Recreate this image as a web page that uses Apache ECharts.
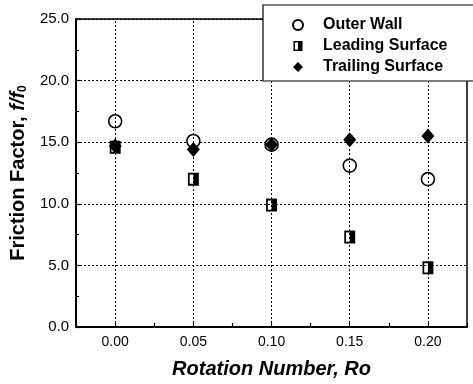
<!DOCTYPE html>
<html><head><meta charset="utf-8">
<script src="https://cdn.jsdelivr.net/npm/echarts@6/dist/echarts.min.js"></script>
<style>html,body{margin:0;padding:0;background:#fff}#c{width:473px;height:384px}</style>
</head><body><div id="c"></div>
<script>
const rotation = [0.00, 0.05, 0.10, 0.15, 0.20];
const outerWall = [16.7, 15.1, 14.8, 13.1, 12.0];
const leadingSurface = [14.6, 12.0, 9.9, 7.3, 4.8];
const trailingSurface = [14.7, 14.4, 14.8, 15.2, 15.5];
const xTicks = [0.00, 0.05, 0.10, 0.15, 0.20];
const yTicks = [0, 5, 10, 15, 20, 25];

const pairs = a => rotation.map((x, i) => [x, a[i]]);
const halfSquare = 'path://M0 0H10V11H0Z M1.6 1.6V9.4H5V1.6Z';
const FONT = 'Liberation Sans, Arial, sans-serif';

const chart = echarts.init(document.getElementById('c'), null, {renderer: 'canvas'});
chart.setOption({
  animation: false,
  backgroundColor: '#fff',
  grid: {left: 74, top: 19, right: 6, bottom: 56, show: true, borderColor: '#000', borderWidth: 1.5, backgroundColor: 'transparent'},
  legend: {
    left: 263, top: 5, orient: 'vertical',
    padding: [12, 40, 6, 29],
    itemWidth: 10, itemHeight: 10, itemGap: 5,
    borderColor: '#000', borderWidth: 1.2, backgroundColor: '#fff',
    textStyle: {fontFamily: FONT, fontWeight: 'bold', fontSize: 16, color: '#000', padding: [0, 0, 0, 15]},
    data: ['Outer Wall', 'Leading Surface', 'Trailing Surface'],
    z: 10
  },
  xAxis: {
    type: 'value', min: -0.025, max: 0.225, interval: 0.025,
    name: 'Rotation Number, Ro', nameLocation: 'middle', nameGap: 32,
    nameTextStyle: {fontFamily: FONT, fontWeight: 'bold', fontStyle: 'italic', fontSize: 20, color: '#000'},
    axisLine: {onZero: false, lineStyle: {color: '#000', width: 2}},
    axisTick: {inside: true, length: 4, lineStyle: {color: '#000', width: 1.2}},
    axisLabel: {
      margin: 8, fontFamily: FONT, fontSize: 14, color: '#000',
      formatter: v => xTicks.some(t => Math.abs(t - v) < 1e-6) ? v.toFixed(2) : ''
    },
    splitLine: {show: false}
  },
  yAxis: {
    type: 'value', min: 0, max: 25, interval: 5,
    name: '{b|Friction Factor, }{i|f/f}{s|0}', nameLocation: 'middle', nameGap: 44,
    nameTextStyle: {
      fontFamily: FONT, fontWeight: 'bold', fontSize: 20, color: '#000',
      rich: {
        b: {fontFamily: FONT, fontWeight: 'bold', fontSize: 20, color: '#000'},
        i: {fontFamily: FONT, fontWeight: 'bold', fontStyle: 'italic', fontSize: 20, color: '#000'},
        s: {fontFamily: FONT, fontWeight: 'bold', fontSize: 12, color: '#000', verticalAlign: 'bottom', padding: [10, 0, 0, 0]}
      }
    },
    axisLine: {onZero: false, lineStyle: {color: '#000', width: 2}},
    axisTick: {inside: true, length: 4, lineStyle: {color: '#000', width: 1.2}},
    minorTick: {show: true, splitNumber: 2, length: 3, lineStyle: {color: '#000', width: 1}},
    axisLabel: {margin: 7, fontFamily: FONT, fontSize: 15, color: '#000', formatter: v => v.toFixed(1)},
    splitLine: {show: true, lineStyle: {color: '#000', width: 1, type: [2, 2]}}
  },
  series: [
    {
      name: 'Outer Wall', type: 'scatter', data: pairs(outerWall),
      symbol: 'circle', symbolSize: 13, symbolKeepAspect: true,
      itemStyle: {color: '#fff', borderColor: '#000', borderWidth: 1.6, opacity: 1},
      markLine: {
        silent: true, symbol: 'none', label: {show: false},
        lineStyle: {color: '#000', width: 1, type: [2, 2]},
        data: xTicks.map(v => ({xAxis: v})),
        animation: false
      },
      z: 3
    },
    {
      name: 'Leading Surface', type: 'scatter', data: pairs(leadingSurface),
      symbol: halfSquare, symbolSize: [12, 13], symbolKeepAspect: true,
      itemStyle: {color: '#000', opacity: 1},
      z: 4
    },
    {
      name: 'Trailing Surface', type: 'scatter', data: pairs(trailingSurface),
      symbol: 'diamond', symbolSize: [13, 15], symbolKeepAspect: true,
      itemStyle: {color: '#000', opacity: 1},
      z: 5
    }
  ]
});
</script></body></html>
